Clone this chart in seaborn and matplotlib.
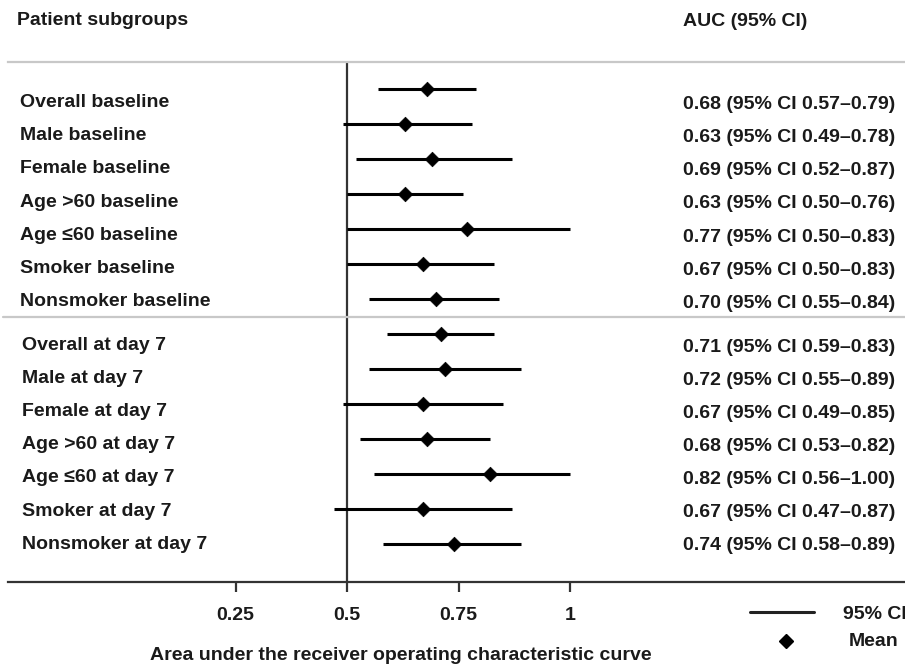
import matplotlib
matplotlib.use("Agg")
import matplotlib.pyplot as plt
import matplotlib.transforms as mtransforms
import seaborn as sns
import pandas as pd

# subgroup names, top to bottom
groups = ["Overall baseline", "Male baseline", "Female baseline", "Age >60 baseline",
          "Age \u226460 baseline", "Smoker baseline", "Nonsmoker baseline",
          "Overall at day 7", "Male at day 7", "Female at day 7", "Age >60 at day 7",
          "Age \u226460 at day 7", "Smoker at day 7", "Nonsmoker at day 7"]

# reported AUC and 95% CI (right hand column)
auc = [0.68, 0.63, 0.69, 0.63, 0.77, 0.67, 0.70,
       0.71, 0.72, 0.67, 0.68, 0.82, 0.67, 0.74]
ci_low = [0.57, 0.49, 0.52, 0.50, 0.50, 0.50, 0.55,
          0.59, 0.55, 0.49, 0.53, 0.56, 0.47, 0.58]
ci_high = [0.79, 0.78, 0.87, 0.76, 0.83, 0.83, 0.84,
           0.83, 0.89, 0.85, 0.82, 1.00, 0.87, 0.89]
# upper ends as drawn in the plot (Age <=60 baseline line runs to 1.0)
ci_high_drawn = [0.79, 0.78, 0.87, 0.76, 1.00, 0.83, 0.84,
                 0.83, 0.89, 0.85, 0.82, 1.00, 0.87, 0.89]

tick_vals = [0.25, 0.5, 0.75, 1.0]
tick_labels = ["0.25", "0.5", "0.75", "1"]

df = pd.DataFrame({"group": groups, "auc": auc, "lo": ci_low,
                   "hi": ci_high_drawn, "row": range(len(groups))})

sns.set_style("white")
plt.rcParams["font.family"] = ["Liberation Sans", "DejaVu Sans"]
plt.rcParams["font.weight"] = "bold"
plt.rcParams["font.size"] = 14
txt_col = "#1a1a1a"

W, H = 905, 667
fig = plt.figure(figsize=(W / 100, H / 100), dpi=100)
ax = fig.add_axes([0, (H - 582) / H, 1, 520 / H])

# x: pixel = 124 + 446 * value ; y: pixel = 89 + 35 * row
ax.set_xlim(-124 / 446, (W - 124) / 446)
ax.set_ylim((582 - 89) / 35, (62 - 89) / 35)

ax.hlines(df["row"], df["lo"], df["hi"], color="black", lw=2.2, zorder=2)
sns.scatterplot(data=df, x="auc", y="row", marker="D", s=55, color="black",
                edgecolor="black", linewidth=0.5, zorder=3, ax=ax, legend=False)

ax.axvline(0.5, color="#333333", lw=1.6, zorder=1)
ax.axhline(6.5, xmin=3 / W, color="#c8c8c8", lw=1.6)

for s in ["left", "right"]:
    ax.spines[s].set_visible(False)
ax.spines["top"].set_color("#c8c8c8")
ax.spines["top"].set_linewidth(1.6)
ax.spines["top"].set_bounds(-116 / 446, (W - 124) / 446)
ax.spines["bottom"].set_color("#333333")
ax.spines["bottom"].set_linewidth(1.6)
ax.spines["bottom"].set_bounds(-116 / 446, (W - 124) / 446)

ax.set_yticks([])
ax.set_xticks(tick_vals)
ax.set_xticklabels(tick_labels, fontsize=14, fontweight="bold", color=txt_col)
ax.tick_params(axis="x", direction="out", length=7, width=1.6, color="#333333",
               pad=11, bottom=True)
ax.set_xlabel("")
ax.set_ylabel("")

# subgroup labels and AUC text
trans = mtransforms.blended_transform_factory(fig.transFigure, ax.transData)
for i, g in enumerate(groups):
    if i < 7:
        ly = 0.514 + 0.949 * i
        lx = 20 / W
    else:
        ly = 7.457 + 0.946 * (i - 7)
        lx = 22 / W
    ax.text(lx, ly, g, transform=trans, ha="left", va="baseline",
            fontsize=14, fontweight="bold", color=txt_col)
    ax.text(683 / W, ly + 0.05,
            f"{auc[i]:.2f} (95% CI {ci_low[i]:.2f}\u2013{ci_high[i]:.2f})",
            transform=trans, ha="left", va="baseline",
            fontsize=14, fontweight="bold", color=txt_col)

fig.text(17 / W, (H - 25) / H, "Patient subgroups", ha="left", va="baseline",
         fontsize=14, fontweight="bold", color=txt_col)
fig.text(683 / W, (H - 26) / H, "AUC (95% CI)", ha="left", va="baseline",
         fontsize=14, fontweight="bold", color=txt_col)
fig.text(150 / W, (H - 660) / H, "Area under the receiver operating characteristic curve",
         ha="left", va="baseline", fontsize=14, fontweight="bold", color=txt_col)

# hand drawn legend
fig.add_artist(plt.Line2D([750 / W, 814 / W], [(H - 612) / H] * 2,
                          transform=fig.transFigure, color="#222222", lw=2.2))
fig.add_artist(plt.Line2D([786 / W], [(H - 641) / H], transform=fig.transFigure,
                          marker="D", ms=7.5, color="black", lw=0))
fig.text(843 / W, (H - 619) / H, "95% CI", ha="left", va="baseline",
         fontsize=14, fontweight="bold", color=txt_col)
fig.text(849 / W, (H - 646) / H, "Mean", ha="left", va="baseline",
         fontsize=14, fontweight="bold", color=txt_col)

fig.savefig("out.png", dpi=100)
